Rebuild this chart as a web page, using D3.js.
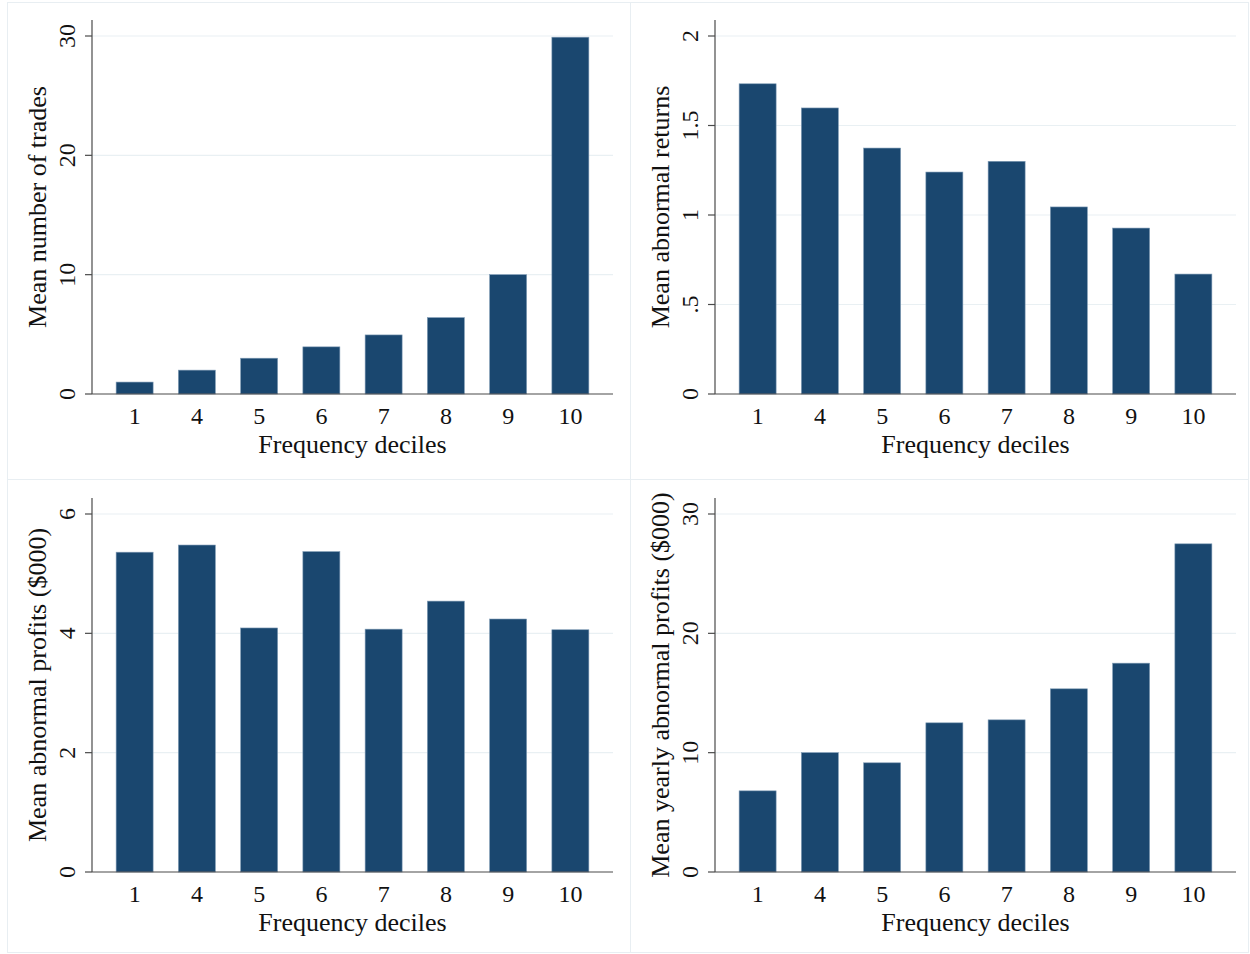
<!DOCTYPE html>
<html>
<head>
<meta charset="utf-8">
<script src="https://cdn.jsdelivr.net/npm/d3@7"></script>
<style>
  html, body { margin: 0; padding: 0; background: #ffffff; }
  svg { display: block; }
  text { font-family: "Liberation Serif", "Times New Roman", serif; fill: #111; }
</style>
</head>
<body>
<script>
// Frequency deciles shown on every panel
const deciles = ["1", "4", "5", "6", "7", "8", "9", "10"];

// Panel series
const meanTrades        = [1.0, 2.0, 3.0, 3.95, 4.95, 6.4, 10.0, 29.9];
const meanAbnReturns    = [1.733, 1.598, 1.374, 1.24, 1.30, 1.045, 0.927, 0.67];
const meanAbnProfits    = [5.36, 5.48, 4.09, 5.37, 4.07, 4.54, 4.24, 4.06];
const meanYearlyProfits = [6.8, 10.0, 9.15, 12.5, 12.75, 15.35, 17.5, 27.5];

// Y-axis ticks and labels
const ticksTrades   = [0, 10, 20, 30];
const ticksReturns  = [0, 0.5, 1, 1.5, 2];
const labelsReturns = ["0", ".5", "1", "1.5", "2"];
const ticksProfits  = [0, 2, 4, 6];
const ticksYearly   = [0, 10, 20, 30];

const yTitles = [
  "Mean number of trades",
  "Mean abnormal returns",
  "Mean abnormal profits ($000)",
  "Mean yearly abnormal profits ($000)"
];
const xTitle = "Frequency deciles";

const W = 1250, H = 954;
const NAVY = "#1a476f";
const GRID = "#e9f0f3";
const AXIS = "#4a4a4a";
const FRAME = "#e8eef2";
const TICK_FONT = 24;
const TITLE_FONT = 26;

const svg = d3.select("body").append("svg")
  .attr("width", W).attr("height", H);

const panels = [
  { values: meanTrades,        ticks: ticksTrades,  labels: null,          max: 30, title: yTitles[0], ox: 0,   oy: 0,   frame: [7, 2, 623, 477] },
  { values: meanAbnReturns,    ticks: ticksReturns, labels: labelsReturns, max: 2,  title: yTitles[1], ox: 623, oy: 0,   frame: [630, 2, 618, 477] },
  { values: meanAbnProfits,    ticks: ticksProfits, labels: null,          max: 6,  title: yTitles[2], ox: 0,   oy: 478, frame: [7, 479, 623, 473] },
  { values: meanYearlyProfits, ticks: ticksYearly,  labels: null,          max: 30, title: yTitles[3], ox: 623, oy: 478, frame: [630, 479, 618, 473] }
];

// Frames of the combined sub-graphs
panels.forEach(p => {
  svg.append("rect")
    .attr("x", p.frame[0] + 0.5).attr("y", p.frame[1] + 0.5)
    .attr("width", p.frame[2]).attr("height", p.frame[3])
    .attr("fill", "none").attr("stroke", FRAME).attr("stroke-width", 1);
});

panels.forEach(p => {
  const axisX = 92 + p.ox;
  const rightX = 613 + p.ox;
  const zeroY = 394 + p.oy;
  const topTickY = 36 + p.oy;
  const axisTopY = 20 + p.oy;

  const g = svg.append("g");

  // one band per decile; bars are centred in their band
  const xs = d3.scaleBand().domain(deciles)
    .range([axisX + 11.5, rightX - 11.5]).paddingInner(0).paddingOuter(0);
  const barW = 37;

  const y = d3.scaleLinear().domain([0, p.max]).range([zeroY, topTickY]);

  // grid lines
  g.selectAll("line.grid").data(p.ticks.filter(t => t !== 0)).join("line")
    .attr("class", "grid")
    .attr("x1", axisX).attr("x2", rightX)
    .attr("y1", d => y(d)).attr("y2", d => y(d))
    .attr("stroke", GRID).attr("stroke-width", 1.2);

  // bars
  g.selectAll("rect.bar").data(p.values).join("rect")
    .attr("class", "bar")
    .attr("x", (d, i) => xs(deciles[i]) + xs.bandwidth() / 2 - barW / 2)
    .attr("width", barW)
    .attr("y", d => y(d))
    .attr("height", d => zeroY - y(d))
    .attr("fill", NAVY)
    .attr("stroke", "#7f9bb5").attr("stroke-width", 0.6);

  // y axis line and ticks
  g.append("line")
    .attr("x1", axisX).attr("x2", axisX)
    .attr("y1", axisTopY).attr("y2", zeroY)
    .attr("stroke", AXIS).attr("stroke-width", 1.2);
  g.selectAll("line.tick").data(p.ticks).join("line")
    .attr("class", "tick")
    .attr("x1", axisX - 7).attr("x2", axisX)
    .attr("y1", d => y(d)).attr("y2", d => y(d))
    .attr("stroke", AXIS).attr("stroke-width", 1.2);

  // x axis line
  g.append("line")
    .attr("x1", axisX).attr("x2", rightX)
    .attr("y1", zeroY).attr("y2", zeroY)
    .attr("stroke", AXIS).attr("stroke-width", 1.2);

  // y tick labels, rotated
  g.selectAll("text.ylab").data(p.ticks).join("text")
    .attr("class", "ylab")
    .attr("transform", d => `translate(${axisX - 17},${y(d)}) rotate(-90)`)
    .attr("text-anchor", "middle")
    .attr("font-size", TICK_FONT)
    .text((d, i) => p.labels ? p.labels[i] : String(d));

  // x tick labels
  g.selectAll("text.xlab").data(deciles).join("text")
    .attr("class", "xlab")
    .attr("x", d => xs(d) + xs.bandwidth() / 2)
    .attr("y", zeroY + 30)
    .attr("text-anchor", "middle")
    .attr("font-size", TICK_FONT)
    .text(d => d);

  // axis titles
  g.append("text")
    .attr("x", (axisX + rightX) / 2)
    .attr("y", zeroY + 59)
    .attr("text-anchor", "middle")
    .attr("font-size", TITLE_FONT)
    .text(xTitle);

  g.append("text")
    .attr("transform", `translate(${axisX - 46},${(axisTopY + zeroY) / 2}) rotate(-90)`)
    .attr("text-anchor", "middle")
    .attr("font-size", TITLE_FONT)
    .text(p.title);
});
</script>
</body>
</html>
